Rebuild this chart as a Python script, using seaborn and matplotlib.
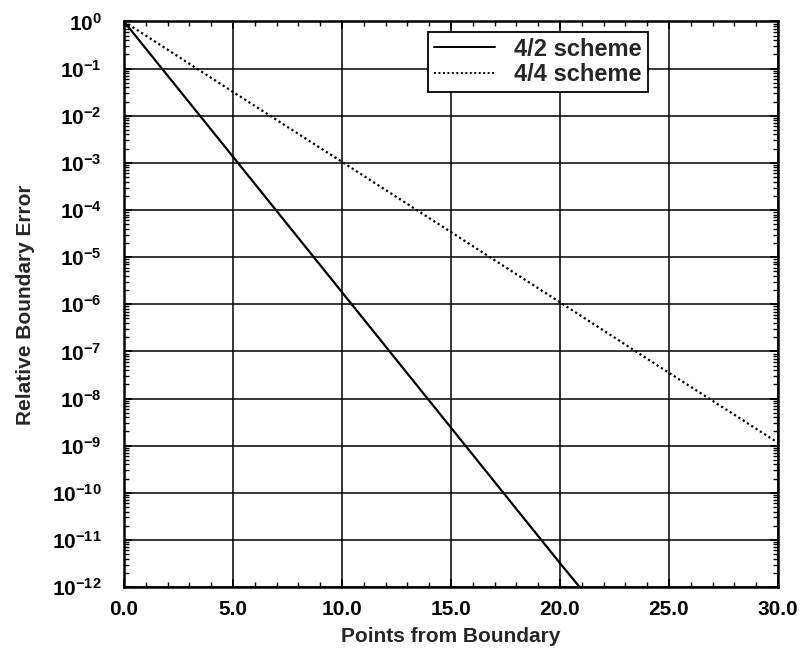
import numpy as np
import pandas as pd
import seaborn as sns
import matplotlib
matplotlib.use("Agg")
import matplotlib.pyplot as plt
from matplotlib.ticker import FixedLocator, FuncFormatter, LogLocator, MultipleLocator, NullFormatter

# Data
x_42 = [0.0, 5.0, 10.0, 15.0, 20.0, 20.9]
y_42 = [1.0, 1.35e-3, 1.8e-6, 2.4e-9, 3.2e-12, 1.0e-12]
x_44 = [0.0, 5.0, 10.0, 15.0, 20.0, 25.0, 30.0]
y_44 = [1.0, 3.2e-2, 1.05e-3, 3.4e-5, 1.1e-6, 3.5e-8, 1.15e-9]
series_names = ["4/2 scheme", "4/4 scheme"]
x_ticks = [0, 5, 10, 15, 20, 25, 30]
x_tick_labels = ["0.0", "5.0", "10.0", "15.0", "20.0", "25.0", "30.0"]
y_exponents = list(range(-12, 1))

df = pd.DataFrame({
    "x": x_42 + x_44,
    "y": y_42 + y_44,
    "scheme": [series_names[0]] * len(x_42) + [series_names[1]] * len(x_44),
})

sns.set_style("ticks")
plt.rcParams["font.family"] = ["Liberation Sans", "DejaVu Sans"]
plt.rcParams["font.weight"] = "bold"
plt.rcParams["mathtext.fontset"] = "custom"
plt.rcParams["mathtext.rm"] = "Liberation Sans:bold"
plt.rcParams["mathtext.bf"] = "Liberation Sans:bold"
plt.rcParams["mathtext.it"] = "Liberation Sans:bold"

fig = plt.figure(figsize=(8.04, 6.55), dpi=100)
ax = fig.add_axes([0.1542, 0.1038, 0.8135, 0.8634])

sns.lineplot(data=df, x="x", y="y", style="scheme", ax=ax, color="black",
             dashes={series_names[0]: "", series_names[1]: (1, 1.3)},
             linewidth=1.6, legend=True)
ax.set_yscale("log")
ax.set_xlim(0, 30)
ax.set_ylim(1e-12, 1)

ax.xaxis.set_major_locator(FixedLocator(x_ticks))
ax.set_xticklabels(x_tick_labels)
ax.xaxis.set_minor_locator(MultipleLocator(1))
ax.yaxis.set_major_locator(FixedLocator([10.0 ** e for e in y_exponents]))
ax.yaxis.set_major_formatter(FuncFormatter(lambda v, p: r"$\mathbf{10^{%d}}$" % int(round(np.log10(v)))))
ax.yaxis.set_minor_locator(LogLocator(base=10, subs=np.arange(2, 10), numticks=100))
ax.yaxis.set_minor_formatter(NullFormatter())

ax.grid(True, which="major", color="black", linewidth=1.1)
ax.tick_params(which="both", direction="in", top=True, right=True, colors="black")
ax.tick_params(which="major", length=6, width=1.3, labelsize=15)
ax.tick_params(axis="x", which="major", pad=9)
ax.tick_params(axis="y", which="major", pad=16)
ax.tick_params(which="minor", length=3.5, width=1.0)
for s in ax.spines.values():
    s.set_linewidth(1.8)
    s.set_color("black")

for lab in ax.get_xticklabels():
    lab.set_fontweight("bold")

ax.set_xlabel("Points from Boundary", fontsize=15, fontweight="bold", labelpad=6)
ax.set_ylabel("Relative Boundary Error", fontsize=15, fontweight="bold", labelpad=12)

leg = ax.legend(loc="upper right", bbox_to_anchor=(0.801, 0.982), borderaxespad=0,
                fontsize=17, frameon=True, fancybox=False, framealpha=1,
                edgecolor="black", handlelength=2.6, handletextpad=0.8,
                borderpad=0.25, labelspacing=0.1, title=None)
leg.get_frame().set_linewidth(1.3)
for t in leg.get_texts():
    t.set_fontweight("bold")
for h in leg.get_lines():
    h.set_linewidth(1.4)

fig.savefig("out.png", dpi=100, facecolor="white")
